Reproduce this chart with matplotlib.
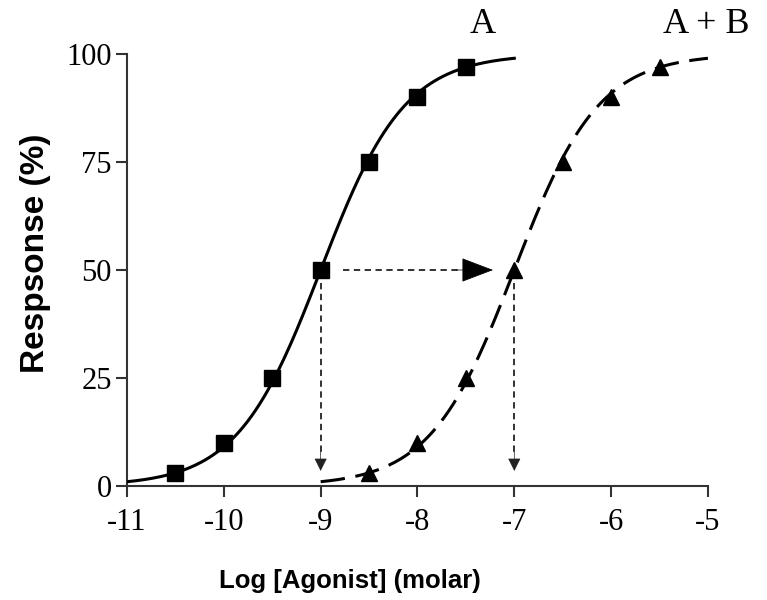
import numpy as np
import matplotlib
matplotlib.use("Agg")
import matplotlib.pyplot as plt

# measured points (log molar, % response)
log_a = [-10.5, -10.0, -9.5, -9.0, -8.5, -8.0, -7.5]
resp_a = [3, 10, 25, 50, 75, 90, 97]
log_ab = [-8.5, -8.0, -7.5, -7.0, -6.5, -6.0, -5.5]
resp_ab = [3, 10, 25, 50, 75, 90, 97]

# fitted curve parameters
ec50_a = -9.0
ec50_ab = -7.0
hill = 1.0
range_a = (-11.0, -7.0)
range_ab = (-9.0, -5.0)

xticks = [-11, -10, -9, -8, -7, -6, -5]
yticks = [0, 25, 50, 75, 100]


def hill_curve(x, ec50):
    return 100.0 / (1.0 + 10 ** (hill * (ec50 - x)))


serif = ["Liberation Serif", "DejaVu Serif"]
sans = ["Liberation Sans", "DejaVu Sans"]
arrow_col = "#222222"

fig = plt.figure(figsize=(7.67, 6.0), dpi=100)
ax = fig.add_axes([0.1656, 0.19, 0.7574, 0.72])

xa = np.linspace(range_a[0], range_a[1], 200)
xab = np.linspace(range_ab[0], range_ab[1], 200)
ax.plot(xa, hill_curve(xa, ec50_a), color="black", lw=2.2, zorder=3)
ax.plot(xab, hill_curve(xab, ec50_ab), color="black", lw=2.2,
        linestyle=(0, (8, 3.5)), zorder=3)
ax.plot(log_a, resp_a, "s", color="black", ms=11.5, zorder=4, clip_on=False)
ax.plot(log_ab, resp_ab, "^", color="black", ms=11, zorder=4, clip_on=False)

# dotted guide lines at the EC50s
mid = 50
ax.plot([ec50_a + 0.23, ec50_ab - 0.55], [mid, mid], color=arrow_col,
        lw=1.3, linestyle=(0, (3.5, 2.5)), zorder=2)
for ec in (ec50_a, ec50_ab):
    ax.plot([ec, ec], [mid - 3, 7], color=arrow_col, lw=1.3,
            linestyle=(0, (3.5, 2.5)), zorder=2)
    ax.annotate("", xy=(ec, 3.5), xytext=(ec, 8),
                arrowprops=dict(arrowstyle="-|>,head_length=8,head_width=4",
                                mutation_scale=1, color=arrow_col, lw=0.5,
                                shrinkA=0, shrinkB=0))
ax.annotate("", xy=(ec50_ab - 0.22, mid), xytext=(ec50_ab - 0.6, mid),
            arrowprops=dict(arrowstyle="-|>,head_length=21,head_width=8",
                            mutation_scale=1, color="black", lw=0.5,
                            shrinkA=0, shrinkB=0))

ax.text(-7.33, 103, "A", family=serif, fontsize=26, ha="center", va="bottom")
ax.text(-5.02, 103, "A + B", family=serif, fontsize=26, ha="center", va="bottom")

ax.set_xlim(-11, -5)
ax.set_ylim(0, 100)
ax.set_xticks(xticks)
ax.set_yticks(yticks)
ax.set_xticklabels([str(t) for t in xticks], family=serif, fontsize=22)
ax.set_yticklabels([str(t) for t in yticks], family=serif, fontsize=22)
ax.tick_params(length=8, width=1.5, color="#333333", pad=3)
ax.tick_params(axis="x", pad=8)
for s in ("top", "right"):
    ax.spines[s].set_visible(False)
for s in ("left", "bottom"):
    ax.spines[s].set_linewidth(1.5)
    ax.spines[s].set_color("#333333")

ax.set_xlabel("Log [Agonist] (molar)", family=sans, fontweight="bold",
              fontsize=18.5, va="center")
ax.set_ylabel("Respsonse (%)", family=sans, fontweight="bold",
              fontsize=24, va="center")
ax.xaxis.set_label_coords(0.384, -0.22)
ax.yaxis.set_label_coords(-0.158, 0.539)

fig.savefig("out.png", dpi=100)
